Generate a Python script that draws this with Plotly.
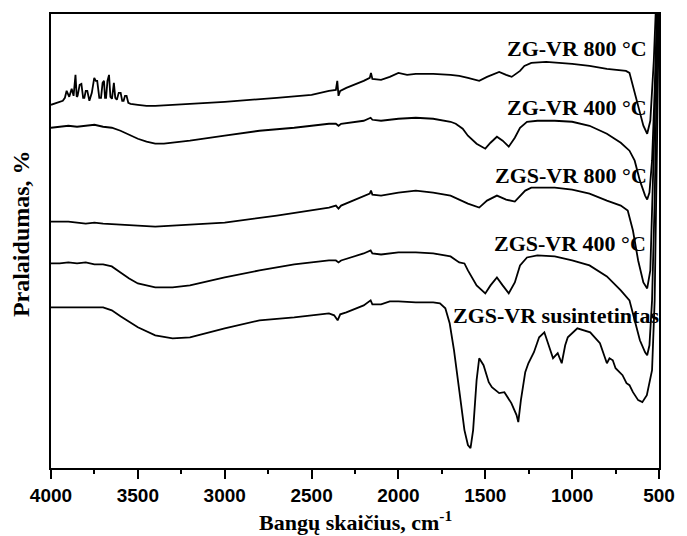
import plotly.graph_objects as go

# ---- data (wavenumber cm-1, transmittance in arbitrary offset units) ----
wn_zg800 = [4000, 3960, 3932, 3920, 3910, 3895, 3881, 3870, 3859, 3852, 3847, 3835, 3825, 3815, 3808,
            3800, 3791, 3779, 3765, 3751, 3742, 3734, 3722, 3712, 3703, 3695, 3689, 3683, 3675, 3666,
            3658, 3649, 3643, 3638, 3630, 3621, 3610, 3599, 3590, 3582, 3574, 3565, 3555, 3542, 3500,
            3450, 3400, 3300, 3000, 2700, 2500, 2400, 2360, 2352, 2345, 2335, 2300, 2200, 2165, 2158,
            2150, 2100, 2050, 2000, 1950, 1900, 1800, 1700, 1650, 1600, 1535, 1490, 1420, 1380, 1348,
            1300, 1275, 1235, 1150, 1000, 900, 800, 720, 690, 670, 650, 620, 590, 568, 550, 530, 515, 505]
t_zg800 = [364, 366, 368, 371, 378, 372, 380, 373, 394, 372, 373, 384, 385, 371, 371,
           378, 378, 368, 376, 391, 388, 388, 371, 371, 386, 388, 371, 371, 388, 394,
           372, 370, 384, 386, 371, 369, 376, 376, 368, 368, 373, 373, 366, 365, 364,
           363, 363, 364, 367, 371, 374, 378, 379, 388, 373, 378, 381, 388, 391, 396,
           390, 389, 392, 396, 394, 395, 395, 394, 393, 391, 388, 392, 397, 394, 392,
           398, 403, 406, 407, 405, 403, 400, 399, 398, 396, 383, 363, 343, 335, 348, 408, 468, 518]

wn_zg400 = [4000, 3950, 3900, 3850, 3800, 3750, 3700, 3650, 3600, 3550, 3500, 3450, 3400, 3350, 3300,
            3200, 3000, 2800, 2600, 2400, 2360, 2345, 2330, 2200, 2160, 2150, 2100, 2000, 1900, 1800,
            1700, 1670, 1630, 1600, 1550, 1500, 1470, 1433, 1400, 1365, 1330, 1300, 1260, 1200, 1100,
            1000, 900, 800, 720, 670, 640, 610, 580, 568, 555, 540, 525, 510, 500]
t_zg400 = [341, 342, 343, 342, 343, 344, 342, 341, 338, 334, 330, 327, 325, 325, 326,
           328, 333, 338, 341, 345, 345, 343, 345, 348, 351, 349, 348, 350, 351, 350,
           347, 345, 340, 333, 325, 320, 326, 332, 328, 322, 331, 341, 347, 348, 348,
           347, 343, 335, 326, 318, 308, 288, 273, 269, 276, 308, 378, 468, 528]

wn_zgs800 = [4000, 3950, 3900, 3850, 3800, 3750, 3700, 3600, 3500, 3400, 3300, 3000, 2700, 2500, 2400,
             2360, 2345, 2330, 2200, 2165, 2158, 2150, 2100, 2000, 1900, 1800, 1700, 1650, 1600, 1535,
             1490, 1433, 1380, 1330, 1300, 1270, 1235, 1100, 1000, 900, 800, 720, 680, 650, 620,
             590, 568, 550, 530, 515, 500]
t_zgs800 = [247, 247, 247, 246, 245, 246, 245, 244, 243, 242, 243, 246, 253, 258, 261,
            263, 260, 263, 272, 275, 278, 274, 273, 276, 278, 276, 273, 269, 265, 261,
            268, 273, 269, 267, 273, 278, 281, 281, 279, 275, 268, 263, 258, 238, 208,
            186, 180, 198, 318, 428, 518]

wn_zgs400 = [4000, 3950, 3900, 3850, 3800, 3750, 3700, 3650, 3600, 3550, 3500, 3400, 3300, 3200, 3000,
             2800, 2600, 2400, 2360, 2345, 2330, 2200, 2160, 2150, 2100, 2000, 1900, 1800, 1700, 1650,
             1620, 1600, 1550, 1500, 1470, 1433, 1400, 1365, 1330, 1300, 1260, 1200, 1100, 1000, 900,
             800, 720, 670, 640, 610, 580, 568, 555, 540, 525, 510, 500]
t_zgs400 = [205, 205, 206, 205, 206, 204, 204, 202, 196, 190, 185, 181, 181, 183, 191,
            198, 204, 208, 208, 206, 208, 215, 218, 215, 214, 216, 216, 215, 212, 206,
            205, 198, 183, 175, 183, 191, 183, 175, 186, 203, 211, 213, 212, 208, 203,
            192, 178, 168, 148, 128, 116, 113, 123, 168, 268, 418, 518]

wn_syn = [4000, 3800, 3700, 3650, 3600, 3500, 3400, 3300, 3200, 3000, 2800, 2600, 2450, 2400, 2370,
          2350, 2335, 2300, 2200, 2160, 2150, 2100, 2050, 2000, 1900, 1800, 1761, 1730, 1705, 1680,
          1650, 1620, 1600, 1585, 1570, 1550, 1535, 1510, 1480, 1462, 1420, 1390, 1350, 1320, 1310,
          1295, 1270, 1252, 1220, 1190, 1160, 1135, 1110, 1083, 1060, 1040, 1025, 970, 896, 840,
          820, 800, 785, 766, 750, 738, 710, 687, 670, 650, 620, 596, 570, 540, 525, 512, 500]
t_syn = [161, 161, 161, 158, 152, 141, 133, 130, 131, 140, 148, 151, 154, 155, 153,
         148, 154, 156, 163, 168, 164, 164, 167, 167, 166, 166, 165, 160, 145, 118,
         78, 38, 23, 20, 38, 88, 110, 103, 86, 81, 75, 76, 65, 53, 46,
         68, 96, 105, 116, 131, 136, 123, 110, 115, 105, 123, 131, 140, 136, 125,
         116, 105, 110, 108, 100, 98, 93, 85, 83, 76, 68, 66, 73, 98, 168, 318, 468]

labels = ["ZG-VR 800 °C", "ZG-VR 400 °C", "ZGS-VR 800 °C", "ZGS-VR 400 °C", "ZGS-VR susintetintas"]
label_y = [420, 361, 293, 225, 153]

x_ticks = [4000, 3500, 3000, 2500, 2000, 1500, 1000, 500]

series = [(wn_zg800, t_zg800), (wn_zg400, t_zg400), (wn_zgs800, t_zgs800),
          (wn_zgs400, t_zgs400), (wn_syn, t_syn)]

fig = go.Figure()
for (xs, ys), name in zip(series, labels):
    fig.add_trace(go.Scatter(x=xs, y=ys, mode="lines", name=name,
                             line=dict(color="black", width=1.8), showlegend=False))

serif = "Liberation Serif"
label_xpaper = [0.984, 0.984, 0.984, 0.982, 1.003]
for txt, lx, ly in zip(labels, label_xpaper, label_y):
    fig.add_annotation(xref="paper", yref="y", x=lx, y=ly, text=f"<b>{txt}</b>", showarrow=False,
                       xanchor="right", yanchor="middle",
                       font=dict(family=serif, size=22, color="black"))

fig.add_annotation(xref="paper", yref="paper", x=0.5, y=-0.116, yanchor="middle",
                   text="<b>Bangų skaičius, cm<sup>-1</sup></b>", showarrow=False,
                   font=dict(family=serif, size=22, color="black"))
fig.add_annotation(xref="paper", yref="paper", x=-0.05, y=(468 - 233) / 455,
                   xanchor="center", yanchor="middle", textangle=-90,
                   text="<b>Pralaidumas, %</b>", showarrow=False,
                   font=dict(family=serif, size=24, color="black"))

fig.update_layout(
    width=687, height=536,
    margin=dict(l=51, r=17, t=13, b=68),
    paper_bgcolor="white", plot_bgcolor="white",
    xaxis=dict(range=[4000, 500], tickvals=x_ticks,
               ticktext=[f"<b>{v}</b>" for v in x_ticks],
               ticks="outside", ticklen=9, tickwidth=1.5, tickcolor="black",
               minor=dict(dtick=250, ticks="outside", ticklen=4, tickwidth=1.5, tickcolor="black"),
               showline=True, linecolor="black", linewidth=1.5, mirror=True,
               showgrid=False, zeroline=False,
               tickfont=dict(family="Liberation Sans", size=19, color="black")),
    yaxis=dict(range=[0, 455], showticklabels=False, ticks="",
               showline=True, linecolor="black", linewidth=1.5, mirror=True,
               showgrid=False, zeroline=False),
)

fig.write_html("out.html")
